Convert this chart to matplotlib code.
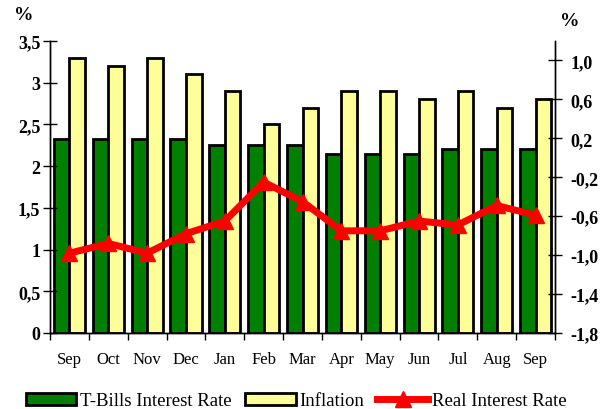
import numpy as np
import matplotlib.pyplot as plt
from matplotlib.lines import Line2D
from matplotlib.patches import Patch

# data
months = ["Sep", "Oct", "Nov", "Dec", "Jan", "Feb", "Mar",
          "Apr", "May", "Jun", "Jul", "Aug", "Sep"]
tbills = [2.32, 2.32, 2.32, 2.32, 2.25, 2.25, 2.25, 2.15, 2.15, 2.15, 2.21, 2.21, 2.21]
inflation = [3.3, 3.2, 3.3, 3.1, 2.9, 2.5, 2.7, 2.9, 2.9, 2.8, 2.9, 2.7, 2.8]
real_rate = [-0.98, -0.88, -0.98, -0.78, -0.65, -0.25, -0.45,
             -0.75, -0.75, -0.65, -0.69, -0.49, -0.59]

left_ticks = [0, 0.5, 1, 1.5, 2, 2.5, 3, 3.5]
left_labels = ["0", "0,5", "1", "1,5", "2", "2,5", "3", "3,5"]
right_ticks = [-1.8, -1.4, -1.0, -0.6, -0.2, 0.2, 0.6, 1.0]
right_labels = ["-1,8", "-1,4", "-1,0", "-0,6", "-0,2", "0,2", "0,6", "1,0"]

plt.rcParams['font.family'] = ['Liberation Serif', 'DejaVu Serif']

fig = plt.figure(figsize=(6.01, 4.10), dpi=100)
ax = fig.add_axes([50 / 601, 1 - 334 / 410, 505 / 601, 292 / 410])
ax2 = ax.twinx()

x = np.arange(len(months))
w = 0.4
ax.bar(x - w / 2, tbills, w, color="#008000", edgecolor="black", linewidth=2)
ax.bar(x + w / 2, inflation, w, color="#FFFF99", edgecolor="black", linewidth=2)

ax2.plot(x, real_rate, color="#FF0000", linewidth=5, marker="^",
         markersize=12, markerfacecolor="#FF0000", markeredgecolor="#FF0000")

ax.set_xlim(-0.5, len(months) - 0.5)
ax.set_ylim(0, 3.5)
ax2.set_ylim(-1.8, 1.2)

ax.set_yticks(left_ticks)
ax.set_yticklabels(left_labels, fontsize=13, fontweight="bold")
ax2.set_yticks(right_ticks)
ax2.set_yticklabels(right_labels, fontsize=13, fontweight="bold")

ax.set_xticks(x)
ax.set_xticklabels(months, fontsize=12)
ax.set_xticks(np.arange(-0.5, len(months)), minor=True)
ax.tick_params(axis="x", which="major", length=0, pad=13)
ax.tick_params(axis="x", which="minor", direction="out", length=5, width=1)
ax.tick_params(axis="y", direction="inout", length=10, width=1, pad=2)
ax2.tick_params(axis="y", direction="inout", length=10, width=1, pad=6)

for a in (ax, ax2):
    a.spines["top"].set_visible(False)
    for s in ("left", "right", "bottom"):
        a.spines[s].set_linewidth(1)

fig.text(24 / 601, 1 - 16 / 410, "%", fontsize=14, fontweight="bold", ha="center", va="center")
fig.text(570 / 601, 1 - 22 / 410, "%", fontsize=14, fontweight="bold", ha="center", va="center")

handles = [
    Patch(facecolor="#008000", edgecolor="black", linewidth=2),
    Patch(facecolor="#FFFF99", edgecolor="black", linewidth=2),
    Line2D([], [], color="#FF0000", linewidth=5, marker="^", markersize=12),
]
fig.legend(handles, ["T-Bills Interest Rate", "Inflation", "Real Interest Rate"],
           loc="center", bbox_to_anchor=(296 / 601, 1 - 402 / 410), ncol=3, frameon=False,
           fontsize=13.5, handlelength=2.7, handleheight=0.55, handletextpad=0.2,
           columnspacing=0.7, borderpad=0)

fig.savefig("out.png", dpi=100)
